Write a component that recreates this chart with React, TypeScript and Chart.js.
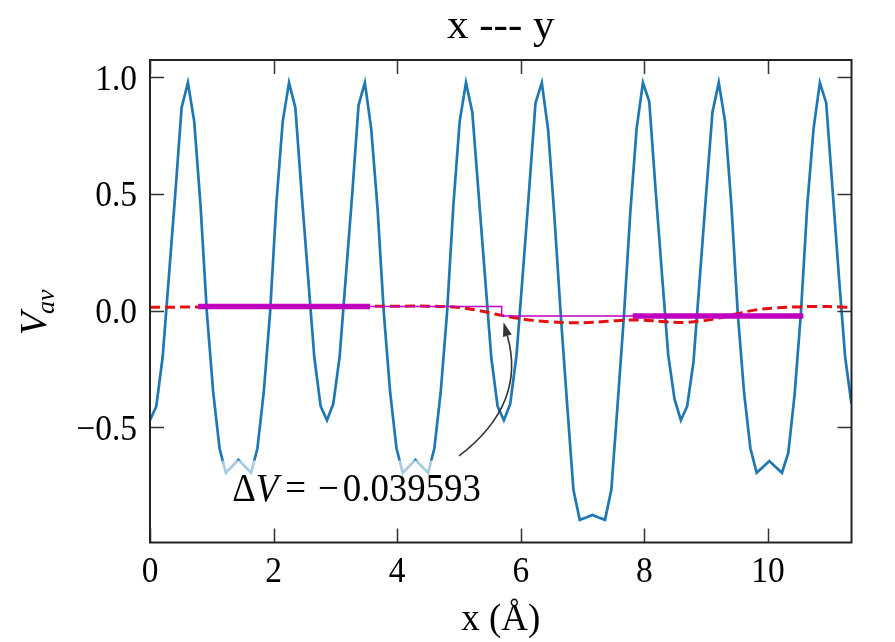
import React, { useEffect, useRef } from 'react';
import { Chart, registerables } from 'chart.js';

Chart.register(...registerables);

// ---------- data ----------
const X_MIN = 0;
const X_MAX = 11.35;
const Y_MIN = -0.994;
const Y_MAX = 1.074;
const X_TICKS = [0, 2, 4, 6, 8, 10];
const Y_TICKS = [-0.5, 0.0, 0.5, 1.0];
const X_TICK_LABELS = ['0', '2', '4', '6', '8', '10'];
const Y_TICK_LABELS = ['\u22120.5', '0.0', '0.5', '1.0'];
const GRID_STEP = 0.10225; // spacing of the planar-average samples (Å)

// planar average V_av, one value per grid sample
const PLANAR_AVG = [
  -0.47, -0.41, -0.20, 0.15, 0.50, 0.87, 0.977, 0.81, 0.45, -0.01,
  -0.35, -0.59, -0.695, -0.667, -0.64, -0.667, -0.695, -0.59, -0.35, -0.01,
  0.46, 0.81, 0.977, 0.87, 0.50, 0.15, -0.20, -0.41, -0.47, -0.40,
  -0.20, 0.15, 0.50, 0.88, 0.977, 0.78, 0.44, -0.01, -0.35, -0.59,
  -0.695, -0.667, -0.64, -0.667, -0.695, -0.59, -0.35, -0.01, 0.45, 0.81,
  0.977, 0.85, 0.50, 0.15, -0.20, -0.41, -0.47, -0.40, -0.19, 0.16,
  0.52, 0.89, 0.977, 0.774, 0.40, -0.02, -0.40, -0.768, -0.897, -0.887,
  -0.876, -0.887, -0.897, -0.768, -0.40, -0.02, 0.42, 0.78, 0.977, 0.896,
  0.52, 0.16, -0.19, -0.38, -0.47, -0.41, -0.22, 0.14, 0.50, 0.85,
  0.977, 0.81, 0.45, -0.01, -0.35, -0.59, -0.695, -0.67, -0.645, -0.67,
  -0.695, -0.61, -0.36, -0.01, 0.45, 0.78, 0.977, 0.89, 0.52, 0.15,
  -0.20, -0.40,
];

// macroscopic average (red dashed)
const MACRO_X = [
  0, 0.5, 1, 1.5, 2, 2.5, 3, 3.5, 4, 4.5, 4.8, 5.0, 5.2, 5.4, 5.6, 5.8, 6.0, 6.2, 6.4, 6.6,
  6.8, 7.0, 7.2, 7.4, 7.6, 7.8, 8.0, 8.2, 8.4, 8.6, 8.8, 9.0, 9.2, 9.4, 9.6, 9.8, 10.0, 10.3,
  10.6, 11.0, 11.35,
];
const MACRO_Y = [
  0.014, 0.015, 0.016, 0.017, 0.017, 0.017, 0.018, 0.019, 0.019, 0.019, 0.017, 0.013, 0.006,
  -0.004, -0.016, -0.026, -0.035, -0.042, -0.047, -0.05, -0.052, -0.052, -0.05, -0.046, -0.042,
  -0.04, -0.041, -0.045, -0.049, -0.051, -0.048, -0.042, -0.032, -0.02, -0.007, 0.003, 0.009,
  0.014, 0.017, 0.017, 0.014,
];

// averaged regions (thick magenta)
const LEFT_REGION_X = [0.78, 3.56];
const LEFT_REGION_Y = [0.017, 0.017];
const RIGHT_REGION_X = [7.81, 10.57];
const RIGHT_REGION_Y = [-0.023, -0.023];

// step between the two averages (thin magenta)
const STEP_X = [0.78, 5.69, 5.69, 10.57];
const STEP_Y = [0.017, 0.017, -0.023, -0.023];

// annotation
const DELTA_V_NUMBER = '0.039593';
const ANNOT_TEXT_X = 1.33;
const ANNOT_TEXT_Y = -0.818;
const ARROW_TAIL = [5.0, -0.623];
const ARROW_TIP = [5.72, -0.05];

const TITLE = 'x --- y';
const X_LABEL = 'x (\u00C5)';

const SERIF = "'Liberation Serif', 'Times New Roman', serif";

const toPairs = (xs: number[], ys: number[]) => xs.map((x, i) => ({ x, y: ys[i] }));

// draw text horizontally condensed by sx
function drawText(
  ctx: CanvasRenderingContext2D,
  text: string,
  x: number,
  y: number,
  font: string,
  align: 'left' | 'center' | 'right',
  sx: number,
) {
  ctx.save();
  ctx.font = font;
  ctx.textBaseline = 'alphabetic';
  ctx.textAlign = 'left';
  const w = ctx.measureText(text).width * sx;
  let x0 = x;
  if (align === 'center') x0 = x - w / 2;
  if (align === 'right') x0 = x - w;
  ctx.translate(x0, y);
  ctx.scale(sx, 1);
  ctx.fillText(text, 0, 0);
  ctx.restore();
  return w;
}

export default function App() {
  const ref = useRef<HTMLCanvasElement | null>(null);

  useEffect(() => {
    const canvas = ref.current;
    if (!canvas) return;

    const decorPlugin = {
      id: 'decor',
      beforeDraw(chart: any) {
        const { ctx, width, height } = chart;
        ctx.save();
        ctx.fillStyle = '#ffffff';
        ctx.fillRect(0, 0, width, height);
        ctx.restore();
      },
      afterDatasetsDraw(chart: any) {
        const { ctx, chartArea } = chart;
        const xs = chart.scales.x;
        const ys = chart.scales.y;
        const { left, right, top, bottom } = chartArea;
        ctx.fillStyle = '#000';

        // ----- annotation text with translucent box -----
        const tx = xs.getPixelForValue(ANNOT_TEXT_X);
        const ty = ys.getPixelForValue(ANNOT_TEXT_Y);
        const fs = 40;
        const asx = 0.92;
        const upright = `${fs}px ${SERIF}`;
        const italic = `italic ${fs}px ${SERIF}`;
        ctx.save();
        ctx.font = upright;
        const wDelta = ctx.measureText('\u0394').width * asx;
        const wEq = ctx.measureText('=').width * asx;
        const wMinus = ctx.measureText('\u2212').width * asx;
        const wNum = ctx.measureText(DELTA_V_NUMBER).width * asx;
        ctx.font = italic;
        const wV = ctx.measureText('V').width * asx;
        const gap1 = 7;
        const gap2 = 12;
        const gap3 = 4;
        const total = wDelta + wV + gap1 + wEq + gap2 + wMinus + gap3 + wNum;
        ctx.fillStyle = 'rgba(255,255,255,0.62)';
        ctx.fillRect(tx - 10, ty - 41, total + 20, 56);
        ctx.fillStyle = '#000';
        let cx = tx;
        drawText(ctx, '\u0394', cx, ty, upright, 'left', asx);
        cx += wDelta;
        drawText(ctx, 'V', cx, ty, italic, 'left', asx);
        cx += wV + gap1;
        drawText(ctx, '=', cx, ty, upright, 'left', asx);
        cx += wEq + gap2;
        drawText(ctx, '\u2212', cx, ty, upright, 'left', asx);
        cx += wMinus + gap3;
        drawText(ctx, DELTA_V_NUMBER, cx, ty, upright, 'left', asx);
        ctx.restore();

        // ----- curved arrow -----
        const p0x = xs.getPixelForValue(ARROW_TAIL[0]);
        const p0y = ys.getPixelForValue(ARROW_TAIL[1]);
        const p2x = xs.getPixelForValue(ARROW_TIP[0]);
        const p2y = ys.getPixelForValue(ARROW_TIP[1]);
        const rad = 0.34;
        const dxS = p2x - p0x;
        const dyS = p2y - p0y;
        const cX = (p0x + p2x) / 2 - rad * dyS;
        const cY = (p0y + p2y) / 2 + rad * dxS;
        let ux = p2x - cX;
        let uy = p2y - cY;
        const ul = Math.hypot(ux, uy);
        ux /= ul;
        uy /= ul;
        const headLen = 14;
        const headHalf = 4.5;
        const bx = p2x - ux * headLen;
        const by = p2y - uy * headLen;
        ctx.save();
        ctx.strokeStyle = '#333333';
        ctx.fillStyle = '#333333';
        ctx.lineWidth = 1.6;
        ctx.beginPath();
        ctx.moveTo(p0x, p0y);
        ctx.quadraticCurveTo(cX, cY, bx, by);
        ctx.stroke();
        ctx.beginPath();
        ctx.moveTo(p2x, p2y);
        ctx.lineTo(bx - uy * headHalf, by + ux * headHalf);
        ctx.lineTo(bx + uy * headHalf, by - ux * headHalf);
        ctx.closePath();
        ctx.fill();
        ctx.restore();

        // ----- frame and inward ticks -----
        ctx.save();
        ctx.strokeStyle = '#333333';
        ctx.lineWidth = 1.5;
        const tl = 14;
        ctx.beginPath();
        X_TICKS.forEach((v) => {
          const px = Math.round(xs.getPixelForValue(v)) + 0.5;
          ctx.moveTo(px, bottom);
          ctx.lineTo(px, bottom - tl);
          ctx.moveTo(px, top);
          ctx.lineTo(px, top + tl);
        });
        Y_TICKS.forEach((v) => {
          const py = Math.round(ys.getPixelForValue(v)) + 0.5;
          ctx.moveTo(left, py);
          ctx.lineTo(left + tl, py);
          ctx.moveTo(right, py);
          ctx.lineTo(right - tl, py);
        });
        ctx.stroke();
        ctx.strokeStyle = '#222222';
        ctx.lineWidth = 2;
        ctx.strokeRect(left, top, right - left, bottom - top);
        ctx.restore();

        // ----- tick labels -----
        ctx.save();
        ctx.fillStyle = '#000';
        const tickFont = `36px ${SERIF}`;
        X_TICKS.forEach((v, i) => {
          drawText(ctx, X_TICK_LABELS[i], xs.getPixelForValue(v), bottom + 39, tickFont, 'center', 0.93);
        });
        Y_TICKS.forEach((v, i) => {
          drawText(ctx, Y_TICK_LABELS[i], left - 13, ys.getPixelForValue(v) + 12.5, tickFont, 'right', 0.93);
        });
        ctx.restore();

        // ----- title and x label -----
        const midX = (left + right) / 2;
        ctx.save();
        ctx.fillStyle = '#000';
        drawText(ctx, TITLE, midX, 38, `43px ${SERIF}`, 'center', 1);
        drawText(ctx, X_LABEL, midX, 630, `37px ${SERIF}`, 'center', 1);
        ctx.restore();

        // ----- y label: V_av -----
        ctx.save();
        ctx.fillStyle = '#000';
        ctx.translate(46, (top + bottom) / 2 + 10);
        ctx.rotate(-Math.PI / 2);
        ctx.textBaseline = 'alphabetic';
        ctx.textAlign = 'left';
        ctx.font = `italic 38px ${SERIF}`;
        const wVv = ctx.measureText('V').width;
        ctx.font = `italic 26px ${SERIF}`;
        const wSub = ctx.measureText('av').width;
        const startX = -(wVv + wSub) / 2;
        ctx.font = `italic 38px ${SERIF}`;
        ctx.fillText('V', startX, 0);
        ctx.font = `italic 26px ${SERIF}`;
        ctx.fillText('av', startX + wVv - 2, 8);
        ctx.restore();
      },
    };

    const blueData = PLANAR_AVG.map((y, i) => ({ x: i * GRID_STEP, y }));

    const chart = new Chart(canvas, {
      type: 'line',
      data: {
        datasets: [
          {
            data: toPairs(LEFT_REGION_X, LEFT_REGION_Y) as any,
            borderColor: '#bf00bf',
            borderWidth: 5.5,
            pointRadius: 0,
            tension: 0,
            order: 1,
          },
          {
            data: toPairs(RIGHT_REGION_X, RIGHT_REGION_Y) as any,
            borderColor: '#bf00bf',
            borderWidth: 5.5,
            pointRadius: 0,
            tension: 0,
            order: 1,
          },
          {
            data: toPairs(STEP_X, STEP_Y) as any,
            borderColor: '#bf00bf',
            borderWidth: 1.5,
            pointRadius: 0,
            tension: 0,
            order: 2,
          },
          {
            data: toPairs(MACRO_X, MACRO_Y) as any,
            borderColor: '#e31010',
            borderWidth: 3,
            borderDash: [10, 5],
            pointRadius: 0,
            tension: 0.3,
            order: 3,
          },
          {
            data: blueData as any,
            borderColor: '#1f77b4',
            borderWidth: 2.7,
            pointRadius: 0,
            tension: 0,
            order: 4,
          },
        ],
      },
      options: {
        responsive: false,
        animation: false,
        devicePixelRatio: 1,
        events: [],
        layout: { padding: { left: 0, right: 43.5, top: 60, bottom: 0 } },
        plugins: {
          legend: { display: false },
          tooltip: { enabled: false },
          title: { display: false },
        },
        scales: {
          x: {
            type: 'linear',
            min: X_MIN,
            max: X_MAX,
            grid: { display: false, drawTicks: false },
            border: { display: false },
            ticks: { display: false },
            afterBuildTicks: (s: any) => {
              s.ticks = X_TICKS.map((v) => ({ value: v }));
            },
            afterFit: (s: any) => {
              s.height = 99.5;
            },
          },
          y: {
            type: 'linear',
            min: Y_MIN,
            max: Y_MAX,
            grid: { display: false, drawTicks: false },
            border: { display: false },
            ticks: { display: false },
            afterBuildTicks: (s: any) => {
              s.ticks = Y_TICKS.map((v) => ({ value: v }));
            },
            afterFit: (s: any) => {
              s.width = 150;
            },
          },
        },
      },
      plugins: [decorPlugin],
    });

    return () => chart.destroy();
  }, []);

  return (
    <div style={{ position: 'absolute', left: 0, top: 0, width: 895, height: 642, background: '#fff' }}>
      <canvas ref={ref} width={895} height={642} style={{ width: 895, height: 642, display: 'block' }} />
    </div>
  );
}
